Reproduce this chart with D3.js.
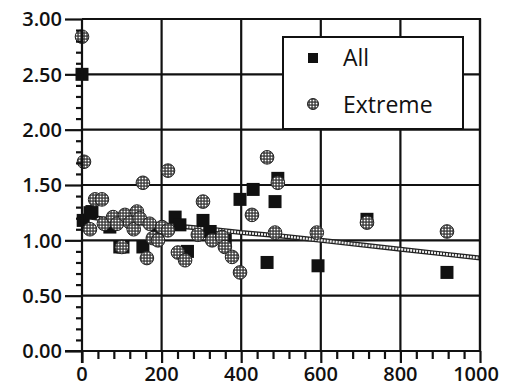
<!DOCTYPE html>
<html>
<head>
<meta charset="utf-8">
<script src="https://cdn.jsdelivr.net/npm/d3@7"></script>
<style>
  body { margin: 0; background: #fff; }
</style>
</head>
<body>
<div id="chart"></div>
<script>
// "All" series (squares)
const allX = [0, 3, 20, 25, 70, 95, 103, 153, 190, 234, 246, 265, 304, 322, 360, 397, 430, 465, 485, 492, 593, 716, 917];
const allY = [2.50, 1.18, 1.25, 1.26, 1.12, 0.94, 0.94, 0.94, 1.08, 1.21, 1.14, 0.90, 1.18, 1.08, 1.00, 1.37, 1.46, 0.80, 1.35, 1.56, 0.77, 1.19, 0.71];

// "Extreme" series (hatched circles)
const extX = [0, 5, 20, 33, 50, 55, 78, 88, 100, 108, 121, 130, 138, 145, 153, 163, 170, 178, 191, 201, 216, 216, 241, 259, 291, 304, 327, 352, 359, 377, 397, 427, 465, 485, 492, 590, 716, 917];
const extY = [2.84, 1.71, 1.10, 1.37, 1.37, 1.15, 1.21, 1.15, 0.94, 1.23, 1.16, 1.10, 1.26, 1.20, 1.52, 0.84, 1.15, 1.02, 1.00, 1.12, 1.63, 1.09, 0.89, 0.82, 1.05, 1.35, 1.00, 1.03, 0.94, 0.85, 0.71, 1.23, 1.75, 1.07, 1.52, 1.07, 1.16, 1.08];

// fitted trend line
const trendX = [0, 100, 200, 300, 400, 500, 600, 700, 800, 900, 1000];
const trendY = [1.22, 1.17, 1.14, 1.11, 1.07, 1.04, 1.00, 0.96, 0.92, 0.88, 0.84];

const xTicks = [0, 200, 400, 600, 800, 1000];
const yTicks = [0, 0.5, 1, 1.5, 2, 2.5, 3];
const legendLabels = ["All", "Extreme"];

const width = 507, height = 392;
const mLeft = 82, mRight = 480, mTop = 19, mBottom = 351;

const svg = d3.select("#chart").append("svg")
  .attr("width", width)
  .attr("height", height);

// hatched fill for the "Extreme" markers
const pat = svg.append("defs").append("pattern")
  .attr("id", "hatch")
  .attr("patternUnits", "userSpaceOnUse")
  .attr("width", 3).attr("height", 3);
pat.append("rect").attr("width", 3).attr("height", 3).attr("fill", "#333");
pat.append("rect").attr("x", 0.7).attr("y", 0.7).attr("width", 1.7).attr("height", 1.7).attr("fill", "#fff");

const x = d3.scaleLinear().domain([0, 1000]).range([mLeft, mRight]);
const y = d3.scaleLinear().domain([0, 3]).range([mBottom, mTop]);

// grid
svg.append("g").selectAll("line")
  .data(yTicks.slice(1))
  .join("line")
  .attr("x1", mLeft).attr("x2", mRight)
  .attr("y1", d => y(d)).attr("y2", d => y(d))
  .attr("stroke", "#111").attr("stroke-width", 2.2);

svg.append("g").selectAll("line")
  .data(xTicks.slice(1))
  .join("line")
  .attr("x1", d => x(d)).attr("x2", d => x(d))
  .attr("y1", mTop).attr("y2", mBottom)
  .attr("stroke", "#111").attr("stroke-width", 2.2);

// trend line: dark band with a dotted light core
const trend = trendX.map((d, i) => [d, trendY[i]]);
const line = d3.line().x(d => x(d[0])).y(d => y(d[1]));
svg.append("path").datum(trend)
  .attr("d", line).attr("fill", "none")
  .attr("stroke", "#222").attr("stroke-width", 5);
svg.append("path").datum(trend)
  .attr("d", line).attr("fill", "none")
  .attr("stroke", "#f2f2f2").attr("stroke-width", 2.4)
  .attr("stroke-dasharray", "2,1");

// squares
const sq = 13;
svg.append("g").selectAll("rect")
  .data(allX.map((d, i) => [d, allY[i]]))
  .join("rect")
  .attr("x", d => x(d[0]) - sq / 2)
  .attr("y", d => y(d[1]) - sq / 2)
  .attr("width", sq).attr("height", sq)
  .attr("fill", "#111");

// circles
svg.append("g").selectAll("circle")
  .data(extX.map((d, i) => [d, extY[i]]))
  .join("circle")
  .attr("cx", d => x(d[0]))
  .attr("cy", d => y(d[1]))
  .attr("r", 6.8)
  .attr("fill", "url(#hatch)")
  .attr("stroke", "#222").attr("stroke-width", 1);

// axes
const yAxis = d3.axisLeft(y).tickValues(d3.range(0, 3.001, 0.1)).tickSize(6).tickFormat("");
const gy = svg.append("g").attr("transform", `translate(${mLeft},0)`).call(yAxis);
gy.selectAll("line, path").attr("stroke", "#111").attr("stroke-width", 2.2);
gy.select(".domain").attr("d", `M0,${mTop}V${mBottom + 12}`);
gy.selectAll(".tick line").filter(d => Math.abs(d * 2 - Math.round(d * 2)) < 1e-6).attr("x2", -17);

const xAxis = d3.axisBottom(x).tickValues(d3.range(0, 1001, 40)).tickSize(8).tickFormat("");
const gx = svg.append("g").attr("transform", `translate(0,${mBottom})`).call(xAxis);
gx.selectAll("line, path").attr("stroke", "#111").attr("stroke-width", 2.2);
gx.select(".domain").attr("d", `M${mLeft - 17},0H${mRight}`);
gx.selectAll(".tick line").filter(d => d % 200 === 0).attr("y2", 12);

// frame top/right
svg.append("path")
  .attr("d", `M${mLeft},${mTop}H${mRight}V${mBottom}`)
  .attr("fill", "none").attr("stroke", "#111").attr("stroke-width", 2.2);

// tick labels
const labelFont = sel => sel
  .attr("font-family", "'Open Sans', sans-serif")
  .attr("font-size", 20)
  .attr("font-weight", 600)
  .attr("fill", "#111");

svg.append("g").selectAll("text")
  .data(yTicks)
  .join("text")
  .call(labelFont)
  .attr("x", 62).attr("y", d => y(d))
  .attr("dy", "0.36em")
  .attr("text-anchor", "end")
  .text(d => d.toFixed(2));

svg.append("g").selectAll("text")
  .data(xTicks)
  .join("text")
  .call(labelFont)
  .attr("x", d => Math.min(x(d), 476)).attr("y", 381)
  .attr("text-anchor", "middle")
  .text(d => d);

// legend
const lg = svg.append("g");
lg.append("rect")
  .attr("x", 283).attr("y", 37).attr("width", 180).attr("height", 92)
  .attr("fill", "#fff").attr("stroke", "#111").attr("stroke-width", 2);
lg.append("rect")
  .attr("x", 308).attr("y", 53).attr("width", 10).attr("height", 10)
  .attr("fill", "#111");
lg.append("circle")
  .attr("cx", 313).attr("cy", 104).attr("r", 5.5)
  .attr("fill", "url(#hatch)").attr("stroke", "#222").attr("stroke-width", 1);
lg.selectAll("text")
  .data(legendLabels)
  .join("text")
  .attr("x", 343).attr("y", (d, i) => 66 + i * 47)
  .attr("font-family", "'Open Sans', sans-serif")
  .attr("font-size", 23)
  .attr("fill", "#111")
  .text(d => d);
</script>
</body>
</html>
